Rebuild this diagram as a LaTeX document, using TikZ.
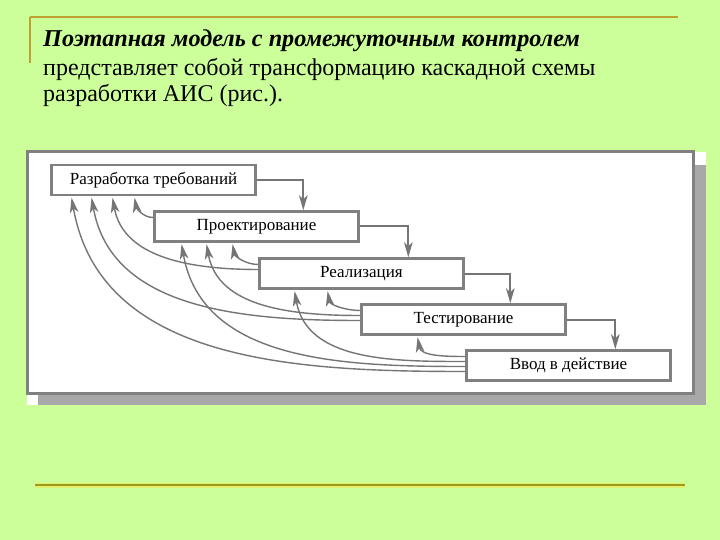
\documentclass[tikz,border=0pt]{standalone}
\usepackage{fontspec}
\setmainfont{Liberation Serif}
\usetikzlibrary{arrows.meta}
\definecolor{slidebg}{HTML}{CCFF99}
\definecolor{goldline}{HTML}{C0A030}
\definecolor{oliveline}{HTML}{9A9A1C}
\definecolor{glowline}{HTML}{E6EE70}
\definecolor{framegray}{HTML}{808080}
\definecolor{shadowgray}{HTML}{A8A8A8}
\definecolor{linkgray}{HTML}{757575}

\begin{document}
\begin{tikzpicture}[x=1pt,y=-1pt,
    stage/.style={draw=framegray,line width=2.4pt,fill=white,minimum width=204pt,
      minimum height=30pt,inner sep=0pt,font=\fontsize{17}{19}\selectfont},
    fwd/.style={draw=linkgray,line width=2pt,-{Stealth[length=15pt,width=8.5pt,inset=4pt]}},
    fb/.style={draw=linkgray,line width=1.4pt,shorten >=1.5pt,-{Stealth[length=15pt,width=8.5pt,inset=4pt]}},
    slidetext/.style={anchor=base west,inner sep=0pt,font=\fontsize{24}{27.5}\selectfont}]
  \useasboundingbox (0,0) rectangle (720,540);
  \fill[slidebg] (0,0) rectangle (720,540);
  % slide frame lines
  \draw[goldline,line width=2pt] (30,17) -- (678,17);
  \draw[goldline,line width=2pt] (30,17) -- (30,63);
  \draw[glowline,line width=5pt] (35,485) -- (685,485);
  \draw[oliveline,line width=2.5pt] (35,485) -- (685,485);
  % text
  \node[slidetext,font=\fontsize{24.2}{27.5}\selectfont\bfseries\itshape] (title) at (43,47) {Поэтапная модель с промежуточным контролем};
  \node[slidetext] (line2) at (43,75.5) {представляет собой трансформацию каскадной схемы};
  \node[slidetext] (line3) at (43,102) {разработки АИС (рис.).};
  % picture panel
  \fill[shadowgray] (38,165) rectangle (706,405);
  \fill[white] (693,152) rectangle (706,165);
  \fill[white] (27,393) rectangle (38,405);
  \draw[framegray,line width=3pt,fill=white] (27,152) rectangle (693,393);
  % stages
  \node[stage] (reqs) at (153.5,180) {Разработка требований};
  \node[stage] (design) at (256.5,226.5) {Проектирование};
  \node[stage] (impl) at (361.5,273.5) {Реализация};
  \node[stage] (test) at (463.5,319.5) {Тестирование};
  \node[stage] (deploy) at (568.5,365.5) {Ввод в действие};
  % forward
  \draw[fwd] (reqs.east) -| ([xshift=150pt]design.north west);
  \draw[fwd] (design.east) -| ([xshift=150pt]impl.north west);
  \draw[fwd] (impl.east) -| ([xshift=150pt]test.north west);
  \draw[fwd] (test.east) -| ([xshift=150pt]deploy.north west);
  % feedback
  \draw[fb] ([yshift=9pt]design.west) to[out=180,in=-80] ([xshift=84pt]reqs.south west);
  \draw[fb] ([yshift=9pt]impl.west) to[out=180,in=-80] ([xshift=79pt]design.south west);
  \draw[fb] ([yshift=4pt]impl.west) to[out=180,in=-80] ([xshift=62pt]reqs.south west);
  \draw[fb] ([yshift=9pt]test.west) to[out=180,in=-80] ([xshift=69pt]impl.south west);
  \draw[fb] ([yshift=4pt]test.west) to[out=180,in=-80] ([xshift=53pt]design.south west);
  \draw[fb] ([yshift=-1pt]test.west) to[out=180,in=-80] ([xshift=41pt]reqs.south west);
  \draw[fb] ([yshift=9pt]deploy.west) to[out=180,in=-80] ([xshift=57pt]test.south west);
  \draw[fb] ([yshift=4pt]deploy.west) to[out=180,in=-80] ([xshift=36pt]impl.south west);
  \draw[fb] ([yshift=-1pt]deploy.west) to[out=180,in=-80] ([xshift=28pt]design.south west);
  \draw[fb] ([yshift=-6pt]deploy.west) to[out=180,in=-80] ([xshift=21pt]reqs.south west);
\end{tikzpicture}
\end{document}
